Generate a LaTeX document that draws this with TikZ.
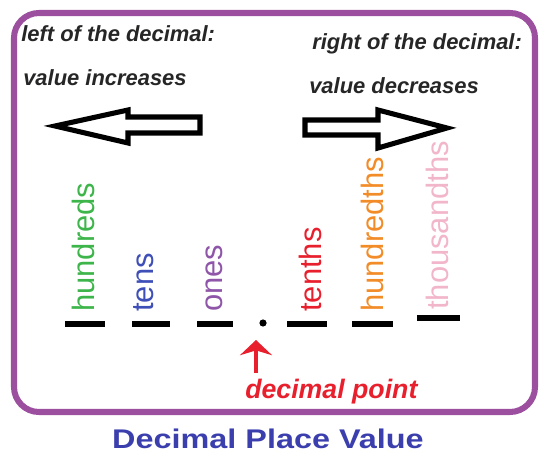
\documentclass[tikz,border=0pt]{standalone}
\usepackage{fontspec}
\setmainfont{Liberation Sans}
\usetikzlibrary{arrows.meta}

\definecolor{framepurple}{HTML}{9B4F9E}
\definecolor{hgreen}{HTML}{3DB54A}
\definecolor{tblue}{HTML}{3F4FB8}
\definecolor{opurple}{HTML}{8E55A8}
\definecolor{tred}{HTML}{E8202E}
\definecolor{horange}{HTML}{F28C28}
\definecolor{tpink}{HTML}{F2B6CB}
\definecolor{titleblue}{HTML}{3B3FAE}

\tikzset{
  note/.style={anchor=base west, inner sep=0, text=black!85,
    font=\fontsize{15.6}{18}\selectfont\bfseries\itshape},
  place/.style={rotate=90, anchor=west, inner sep=0,
    font=\fontsize{22}{26}\selectfont},
  slot/.style={line width=4pt},
  hollow/.style={line width=3.6pt, line join=miter},
}

\begin{document}
\begin{tikzpicture}
    \useasboundingbox (0,0) rectangle (13.6,11.375);

    % Frame
    \draw[framepurple, line width=4.3pt, rounded corners=0.625cm]
        (0.35,1.075) rectangle (13.375,11.05);

    % Headings
    \node[note] (lefthead) at (0.525,10.325) {left of the decimal:};
    \node[note] (leftval) at (0.575,9.225) {value increases};
    \node[note] (righthead) at (7.8,10.125) {right of the decimal:};
    \node[note] (rightval) at (7.725,9.025) {value decreases};

    % Hollow arrows
    \draw[hollow] (1.375,8.225) -- (3.2,8.625) -- (3.2,8.45) -- (5,8.45)
        -- (5,8.05) -- (3.2,8.05) -- (3.2,7.8) -- cycle;
    \draw[hollow] (7.625,8.375) -- (9.45,8.375) -- (9.45,8.625) -- (11.175,8.175)
        -- (9.45,7.675) -- (9.45,8.0) -- (7.625,8.0) -- cycle;

    % Place names
    \node[place, text=hgreen] (hundreds) at (2.075,3.575) {hundreds};
    \node[place, text=tblue] (tens) at (3.6,3.575) {tens};
    \node[place, text=opurple] (ones) at (5.35,3.575) {ones};
    \node[place, text=tred] (tenths) at (7.75,3.575) {tenths};
    \node[place, text=horange] (hundredths) at (9.3,3.575) {hundredths};
    \node[place, text=tpink] (thousandths) at (10.925,3.625) {thousandths};

    % Blanks
    \foreach \a/\b/\y in {1.625/2.625/3.275, 3.3/4.25/3.275, 4.925/5.825/3.275,
                          7.175/8.175/3.275, 8.8/9.825/3.275, 10.425/11.5/3.425}
        \draw[slot] (\a,\y) -- (\b,\y);

    % Decimal point
    \fill (6.575,3.3) circle (0.09);
    \coordinate (arrtip) at (6.4,2.875);
    \node[note, text=tred, font=\fontsize{19}{22}\selectfont\bfseries\itshape]
        (pointlabel) at (6.125,1.425) {decimal point};
    \draw[tred, line width=3.5pt, -{Stealth[length=0.38cm, width=0.8cm, inset=0.12cm]}]
        ([yshift=4pt]pointlabel.north -| arrtip) -- (arrtip);

    % Title
    \node[text=titleblue, font=\fontsize{19.2}{22}\selectfont\bfseries,
        xscale=1.2, anchor=base] (title) at (6.7,0.175) {Decimal Place Value};
\end{tikzpicture}
\end{document}
